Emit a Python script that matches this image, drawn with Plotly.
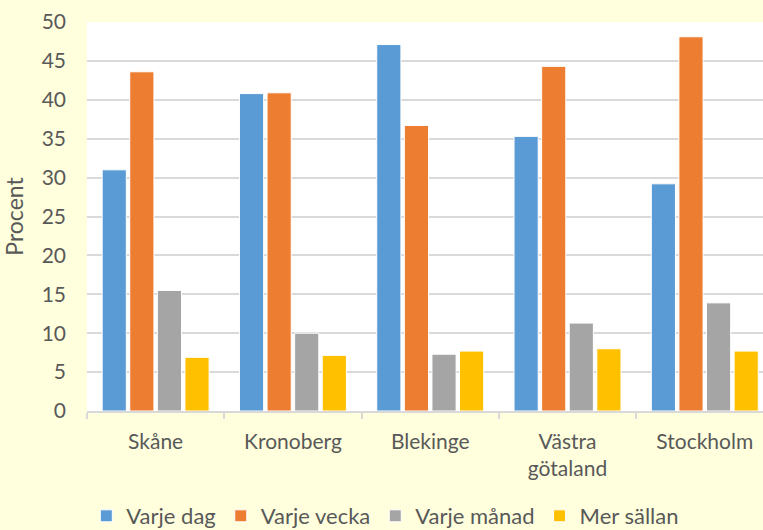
import plotly.graph_objects as go

# Regions surveyed and share of respondents (%) per frequency
regions = ["Skåne", "Kronoberg", "Blekinge", "Västra<br>götaland", "Stockholm"]
series_names = ["Varje dag", "Varje vecka", "Varje månad", "Mer sällan"]
varje_dag = [31.0, 40.8, 47.1, 35.3, 29.2]
varje_vecka = [43.6, 40.9, 36.7, 44.3, 48.1]
varje_manad = [15.5, 10.0, 7.3, 11.3, 13.9]
mer_sallan = [6.9, 7.15, 7.7, 8.0, 7.7]
y_ticks = [0, 5, 10, 15, 20, 25, 30, 35, 40, 45, 50]

series_values = [varje_dag, varje_vecka, varje_manad, mer_sallan]
colors = ["#5B9BD5", "#ED7D31", "#A5A5A5", "#FFC000"]

FONT = "Lato, 'Open Sans', sans-serif"
TEXT = "#595959"
GRID = "#D9D9D9"
BG = "#FFFFDD"

# bar geometry in category units: slot pitch and drawn width
pitch = 0.201
bar_w = 0.176

fig = go.Figure()
for k, (name, vals, col) in enumerate(zip(series_names, series_values, colors)):
    centre = (k - 1.5) * pitch
    fig.add_trace(go.Bar(
        name=name,
        x=regions,
        y=vals,
        width=bar_w,
        offset=centre - bar_w / 2,
        marker=dict(color=col, line=dict(color="white", width=1)),
    ))

fig.update_layout(
    width=763,
    height=530,
    margin=dict(l=87, r=0, t=22, b=119),
    paper_bgcolor=BG,
    plot_bgcolor="white",
    barmode="overlay",
    font=dict(family=FONT, size=21, color=TEXT),
    showlegend=True,
    legend=dict(
        orientation="h",
        xref="container",
        yref="container",
        x=0.505,
        xanchor="center",
        y=14 / 530,
        yanchor="middle",
        font=dict(family=FONT, size=22, color=TEXT),
        bgcolor="rgba(0,0,0,0)",
        itemwidth=30,
        traceorder="normal",
    ),
)

fig.update_xaxes(
    type="category",
    range=[-0.5, 4.424],
    showline=True,
    linecolor=GRID,
    linewidth=1.5,
    ticks="outside",
    tickson="boundaries",
    ticklen=6,
    tickcolor=GRID,
    tickwidth=1.5,
    ticklabelstandoff=11,
    showgrid=False,
    tickfont=dict(family=FONT, size=21, color=TEXT),
    layer="above traces",
)

fig.update_yaxes(
    range=[0, 50],
    tickmode="array",
    tickvals=y_ticks,
    ticktext=[str(v) for v in y_ticks],
    showgrid=True,
    gridcolor=GRID,
    gridwidth=1.5,
    zeroline=False,
    showline=False,
    ticklabelstandoff=20,
    tickfont=dict(family=FONT, size=21, color=TEXT),
    title=dict(text="Procent", font=dict(family=FONT, size=23, color=TEXT), standoff=13),
)

fig.write_html("out.html")
